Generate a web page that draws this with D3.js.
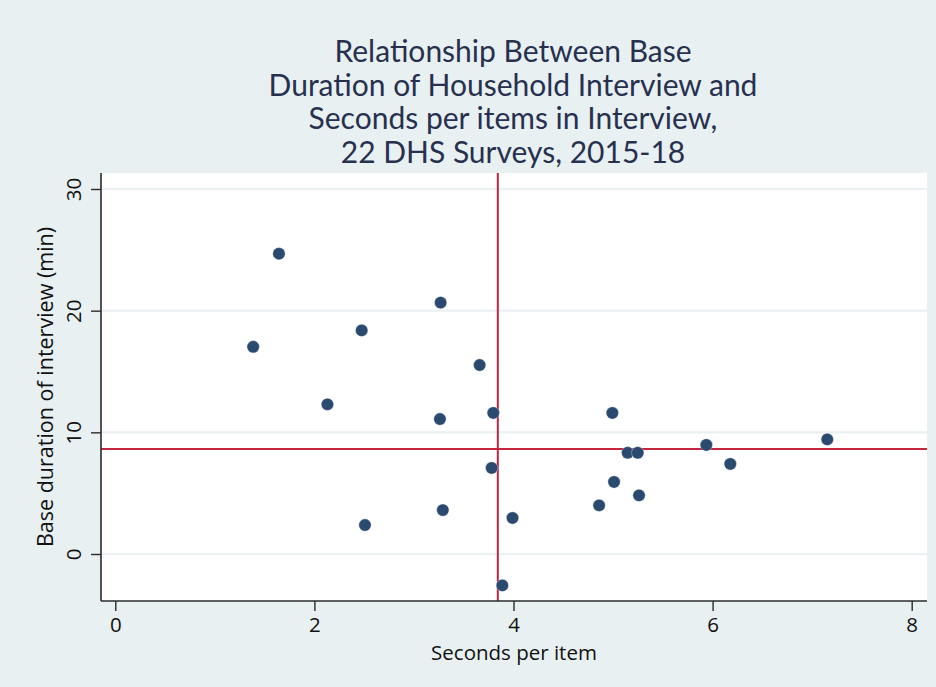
<!DOCTYPE html>
<html>
<head>
<meta charset="utf-8">
<script src="https://cdn.jsdelivr.net/npm/d3@7"></script>
<style>
  html, body { margin: 0; padding: 0; background: #ffffff; }
  svg { display: block; }
</style>
</head>
<body>
<svg id="chart" width="936" height="687"></svg>
<script>
// ---- data ----
const titleLines = [
  "Relationship Between Base",
  "Duration of Household Interview and",
  "Seconds per items in Interview,",
  "22 DHS Surveys, 2015-18"
];
const xLabel = "Seconds per item";
const yLabel = "Base duration of interview (min)";
const xTicks = [0, 2, 4, 6, 8];
const yTicks = [0, 10, 20, 30];
const secondsPerItem = [1.644, 1.385, 2.475, 2.131, 3.268, 3.660, 3.261, 3.797, 3.781, 2.508, 3.290, 3.990, 3.888, 4.993, 5.147, 5.248, 5.937, 6.178, 7.152, 5.010, 5.261, 4.860];
const baseDuration  = [24.68, 17.03, 18.38, 12.30, 20.66, 15.53, 11.09, 11.59, 7.07, 2.38, 3.61, 2.96, -2.58, 11.59, 8.32, 8.32, 8.96, 7.40, 9.42, 5.92, 4.82, 4.00];

// ---- layout ----
const svg = d3.select("#chart");
const W = 936, H = 687;
const plot = { left: 101, right: 927, top: 173, bottom: 601 };

const x = d3.scaleLinear().domain([0, 8]).range([115.3, 911.7]);
const y = d3.scaleLinear().domain([0, 30]).range([554, 189]);

const bg = "#e8f0f2";
const gridCol = "#e9f1f3";
const red = "#c4263d";
const navy = "#2a4a70";
const axisCol = "#2b2b2b";
const textFont = "'Open Sans', 'DejaVu Sans', sans-serif";
const axFs = 20.5;

// outer background
svg.append("rect").attr("x", 0).attr("y", 0).attr("width", W).attr("height", H).attr("fill", bg);
// plot region
svg.append("rect")
  .attr("x", plot.left).attr("y", plot.top)
  .attr("width", plot.right - plot.left).attr("height", plot.bottom - plot.top)
  .attr("fill", "#ffffff");

// horizontal gridlines
svg.append("g").selectAll("line").data(yTicks).join("line")
  .attr("x1", plot.left).attr("x2", plot.right)
  .attr("y1", d => y(d)).attr("y2", d => y(d))
  .attr("stroke", gridCol).attr("stroke-width", 2.2);

// reference lines at medians
const medX = d3.median(secondsPerItem);
const medY = d3.median(baseDuration);
svg.append("line")
  .attr("x1", plot.left).attr("x2", plot.right)
  .attr("y1", y(medY)).attr("y2", y(medY))
  .attr("stroke", red).attr("stroke-width", 2);
svg.append("line")
  .attr("x1", x(medX)).attr("x2", x(medX))
  .attr("y1", plot.top).attr("y2", plot.bottom)
  .attr("stroke", red).attr("stroke-width", 2);

// points
const pts = secondsPerItem.map((v, i) => ({ x: v, y: baseDuration[i] }));
svg.append("g").selectAll("circle").data(pts).join("circle")
  .attr("cx", d => x(d.x)).attr("cy", d => y(d.y))
  .attr("r", 6.2)
  .attr("fill", navy)
  .attr("stroke", "#ffffff").attr("stroke-width", 0.6).attr("stroke-opacity", 0.6);

// axes
const xAxis = d3.axisBottom(x).tickValues(xTicks).tickSize(10).tickPadding(6).tickSizeOuter(0);
const gx = svg.append("g").attr("transform", `translate(0,${plot.bottom})`).call(xAxis);
gx.select(".domain").remove();
gx.append("line").attr("x1", plot.left).attr("x2", plot.right).attr("y1", 0).attr("y2", 0)
  .attr("stroke", axisCol).attr("stroke-width", 1.6);
gx.selectAll(".tick line").attr("stroke", axisCol).attr("stroke-width", 1.4);
gx.selectAll(".tick text").attr("font-family", textFont).attr("font-size", axFs).attr("fill", "#111");

const yAxis = d3.axisLeft(y).tickValues(yTicks).tickSize(10).tickPadding(6).tickSizeOuter(0);
const gy = svg.append("g").attr("transform", `translate(${plot.left},0)`).call(yAxis);
gy.select(".domain").remove();
gy.append("line").attr("x1", 0).attr("x2", 0).attr("y1", plot.top).attr("y2", plot.bottom)
  .attr("stroke", axisCol).attr("stroke-width", 1.6);
gy.selectAll(".tick line").attr("stroke", axisCol).attr("stroke-width", 1.4);
gy.selectAll(".tick text")
  .attr("font-family", textFont).attr("font-size", axFs).attr("fill", "#111")
  .attr("text-anchor", "middle")
  .attr("dy", null)
  .attr("x", null)
  .attr("transform", "translate(-28,0) rotate(-90)")
  .attr("dominant-baseline", "central");

// axis titles
svg.append("text")
  .attr("x", (plot.left + plot.right) / 2).attr("y", 660)
  .attr("text-anchor", "middle")
  .attr("font-family", textFont).attr("font-size", axFs).attr("fill", "#111")
  .text(xLabel);
svg.append("text")
  .attr("transform", `translate(53,${(plot.top + plot.bottom) / 2}) rotate(-90)`)
  .attr("text-anchor", "middle")
  .attr("font-family", textFont).attr("font-size", 21.5).attr("fill", "#111")
  .text(yLabel);

// title
svg.append("g").selectAll("text").data(titleLines).join("text")
  .attr("x", 513).attr("y", (d, i) => 62 + i * 33.7)
  .attr("text-anchor", "middle")
  .attr("font-family", "Lato, 'Open Sans', sans-serif").attr("font-size", 30)
  .attr("fill", "#27304f")
  .text(d => d);
</script>
</body>
</html>
